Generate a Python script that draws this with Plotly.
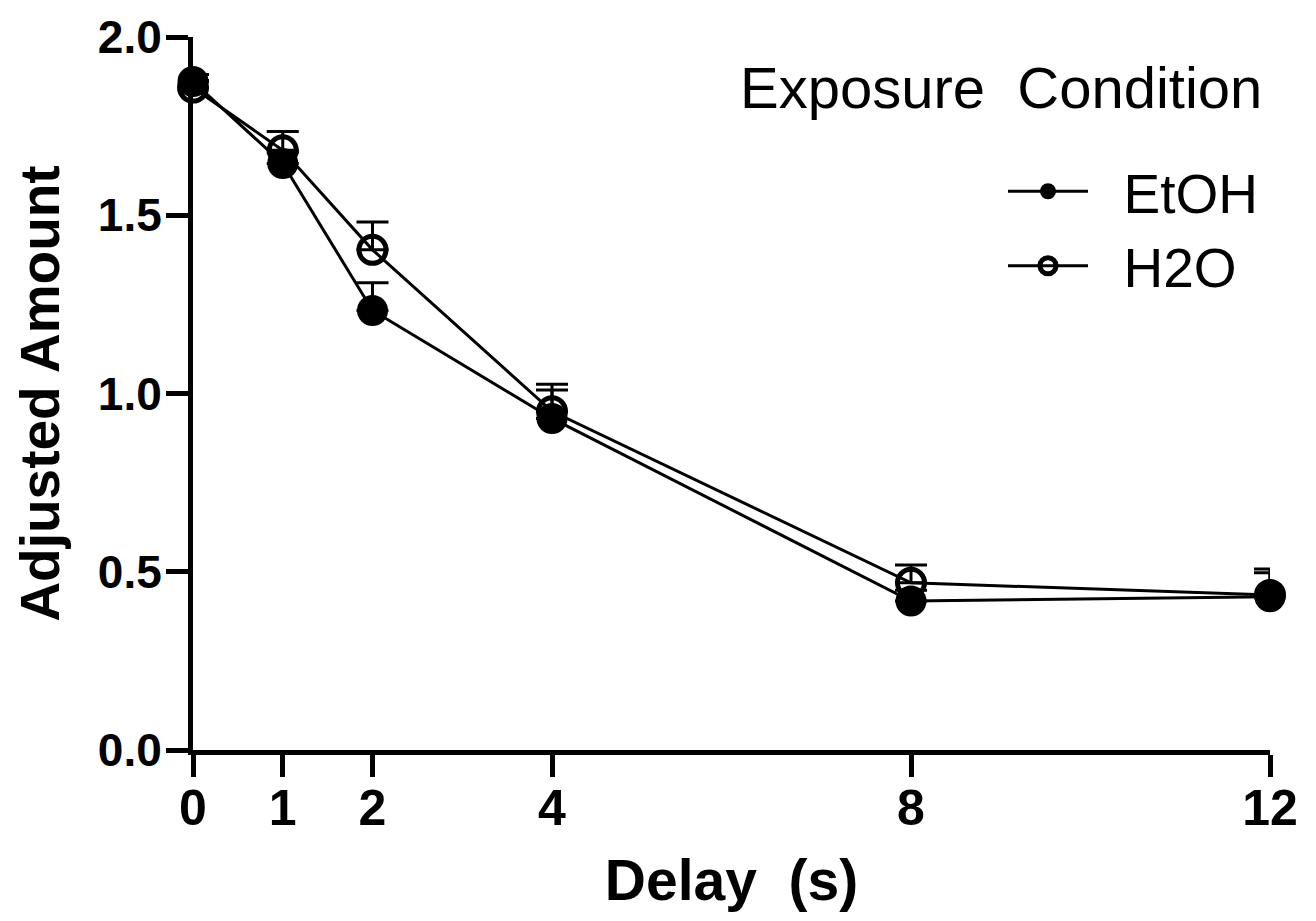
import plotly.graph_objects as go

delay = [0, 1, 2, 4, 8, 12]
etoh_mean = [1.875, 1.645, 1.233, 0.930, 0.418, 0.430]
etoh_err = [0.02, 0.03, 0.078, 0.080, 0.03, 0.067]
h2o_mean = [1.858, 1.682, 1.403, 0.950, 0.469, 0.435]
h2o_err = [0.02, 0.053, 0.078, 0.076, 0.050, 0.073]
x_ticks = [0, 1, 2, 4, 8, 12]
y_ticks = [0.0, 0.5, 1.0, 1.5, 2.0]

FONT = "Liberation Sans"
NB = "\u00a0\u00a0"

# page body has an 8px margin; plot area in window coords: x 193..1270, y 37..750
W, H = 1300, 905
L, T, R, B = 185, 29, 1262, 742
PW, PH = R - L, B - T

def px(xw):
    return (xw - 8 - L) / PW

def py(yw):
    return (B - (yw - 8)) / PH

fig = go.Figure()
fig.add_trace(go.Scatter(
    x=delay, y=etoh_mean, name=NB + "EtOH", mode="lines+markers",
    line=dict(color="black", width=3),
    marker=dict(symbol="circle", size=31, color="black"),
    error_y=dict(type="data", array=etoh_err, arrayminus=[0]*len(etoh_err),
                 symmetric=False, color="black", thickness=3, width=16),
    cliponaxis=False,
))
fig.add_trace(go.Scatter(
    x=delay, y=h2o_mean, name=NB + "H2O", mode="lines+markers",
    line=dict(color="black", width=3),
    marker=dict(symbol="circle-open", size=27, color="black",
                line=dict(width=5, color="black")),
    error_y=dict(type="data", array=h2o_err, arrayminus=[0]*len(h2o_err),
                 symmetric=False, color="black", thickness=3, width=16),
    cliponaxis=False,
))

fig.update_layout(
    width=W, height=H,
    margin=dict(l=L, r=W - R, t=T, b=H - B, autoexpand=False),
    paper_bgcolor="white", plot_bgcolor="white",
    font=dict(family=FONT, color="black"),
    showlegend=True,
    legend=dict(
        x=px(1003), xanchor="left", y=py(149), yanchor="top",
        font=dict(family=FONT, size=55, color="black"),
        bgcolor="rgba(0,0,0,0)", itemwidth=80, tracegroupgap=0,
    ),
    annotations=[dict(
        text="Exposure  Condition", xref="paper", yref="paper",
        x=px(1264), xanchor="right", y=py(88), yanchor="middle",
        showarrow=False, font=dict(family=FONT, size=58, color="black"),
    )],
)
fig.update_xaxes(
    range=[0, 12], tickvals=x_ticks, ticktext=[str(v) for v in x_ticks],
    showline=True, linecolor="black", linewidth=5, mirror=False,
    ticks="outside", ticklen=22, tickwidth=5, tickcolor="black",
    tickfont=dict(family=FONT, size=50, color="black", weight="bold"),
    ticklabelstandoff=-12, ticklabeloverflow="allow",
    showgrid=False, zeroline=False, layer="below traces", automargin=False,
    title=dict(text="<b>Delay  (s)</b>", font=dict(family=FONT, size=57), standoff=27),
)
fig.update_yaxes(
    range=[0, 2], tickvals=y_ticks, ticktext=[f"{v:.1f}" for v in y_ticks],
    showline=True, linecolor="black", linewidth=5, mirror=False,
    ticks="outside", ticklen=22, tickwidth=5, tickcolor="black",
    tickfont=dict(family=FONT, size=46, color="black", weight="bold"),
    ticklabelstandoff=-5, ticklabeloverflow="allow",
    showgrid=False, zeroline=False, layer="below traces", automargin=False,
    title=dict(text="<b>Adjusted Amount</b>", font=dict(family=FONT, size=55), standoff=22),
)

fig.write_html("out.html")
